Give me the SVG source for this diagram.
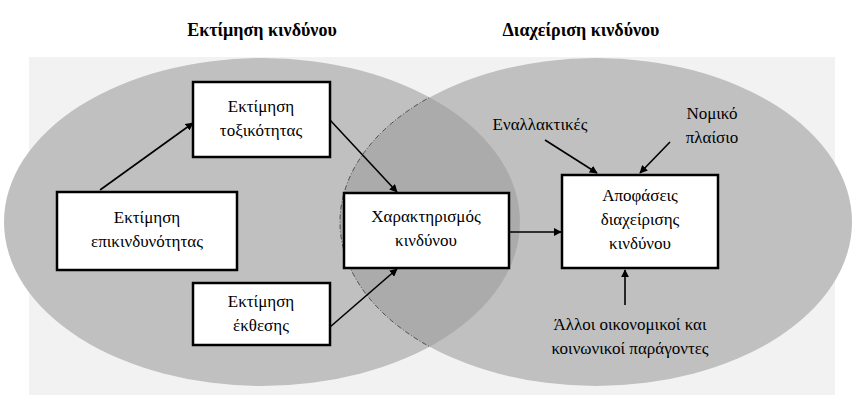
<svg xmlns="http://www.w3.org/2000/svg" width="862" height="405" viewBox="0 0 862 405">
<style>
text{font-family:"Liberation Serif","Times New Roman","DejaVu Serif",serif;font-size:17px;fill:#000;text-anchor:middle}
.t{font-weight:bold;font-size:18px}
.b{fill:#fff;stroke:#000;stroke-width:2.5}
.c{stroke:#000;stroke-width:1.6;fill:none;marker-end:url(#a)}
</style>
<defs>
<marker id="a" viewBox="0 0 10 10" refX="9" refY="5" markerWidth="8" markerHeight="8" markerUnits="userSpaceOnUse" orient="auto"><path d="M0,0L10,5L0,10z" fill="#000"/></marker>
<clipPath id="cl"><ellipse cx="262" cy="222" rx="258" ry="164"/></clipPath>
</defs>
<rect x="0" y="0" width="862" height="405" fill="#fff"/>
<rect x="29" y="57" width="806" height="338" fill="#f2f2f2"/>
<ellipse cx="262" cy="222" rx="258" ry="164" fill="#c0c0c0"/>
<ellipse cx="596" cy="222" rx="256" ry="164" fill="#c0c0c0"/>
<ellipse cx="596" cy="222" rx="256" ry="164" fill="#ababab" clip-path="url(#cl)"/>
<g fill="none" stroke="#333" stroke-width="0.8" stroke-dasharray="5,2,1,2">
<ellipse cx="596" cy="222" rx="256" ry="164" clip-path="url(#cl)"/>
</g>
<text class="t" x="262" y="36">Εκτίμηση κινδύνου</text>
<text class="t" x="581" y="36">Διαχείριση κινδύνου</text>
<g id="connectors">
<line class="c" x1="100" y1="190" x2="193" y2="123"/>
<line class="c" x1="330" y1="120" x2="397" y2="192"/>
<line class="c" x1="330" y1="327" x2="397" y2="269"/>
<line class="c" x1="509" y1="232" x2="561" y2="232"/>
<line class="c" x1="545" y1="140" x2="597" y2="173"/>
<line class="c" x1="670" y1="142" x2="640" y2="173"/>
<line class="c" x1="625" y1="305" x2="625" y2="270"/>
</g>
<g id="tox"><rect class="b" x="193" y="82" width="137" height="75"/><text x="261" y="112">Εκτίμηση</text><text x="261" y="136">τοξικότητας</text></g>
<g id="epik"><rect class="b" x="57" y="192" width="180" height="78"/><text x="147" y="223">Εκτίμηση</text><text x="147" y="247">επικινδυνότητας</text></g>
<g id="ekth"><rect class="b" x="193" y="283" width="137" height="62"/><text x="261" y="307">Εκτίμηση</text><text x="261" y="331">έκθεσης</text></g>
<g id="char"><rect class="b" x="344" y="193" width="165" height="75"/><text x="426" y="222">Χαρακτηρισμός</text><text x="426" y="246">κινδύνου</text></g>
<g id="apof"><rect class="b" x="562" y="175" width="156" height="93"/><text x="640" y="201">Αποφάσεις</text><text x="640" y="225">διαχείρισης</text><text x="640" y="249">κινδύνου</text></g>
<g id="enal"><text x="540" y="130">Εναλλακτικές</text></g>
<g id="nomo"><text x="712" y="119">Νομικό</text><text x="712" y="143">πλαίσιο</text></g>
<g id="allo"><text x="630" y="330">Άλλοι οικονομικοί και</text><text x="630" y="354">κοινωνικοί παράγοντες</text></g>
</svg>
